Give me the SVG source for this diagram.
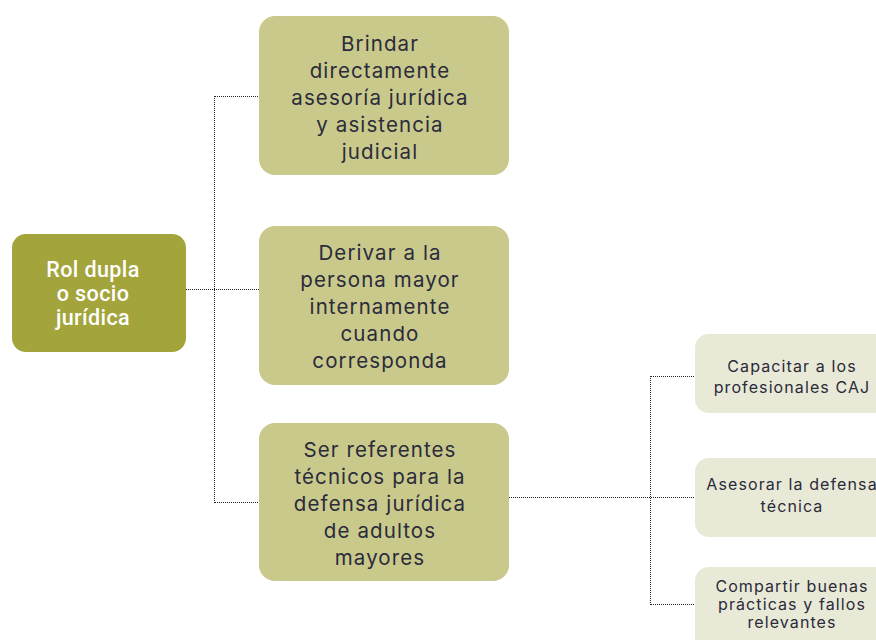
<svg xmlns="http://www.w3.org/2000/svg" width="876" height="640" viewBox="0 0 876 640">
<style>
.root{fill:#a3a53c}
.mid{fill:#c9c98c}
.leaf{fill:#e8e9d6}
.rt{font-family:Roboto,"Liberation Sans",sans-serif;font-size:21.5px;font-weight:500;fill:#ffffff;text-anchor:middle;letter-spacing:0.4px}
.mt{font-family:Inter,"Liberation Sans",sans-serif;font-size:20.5px;fill:#2b2b3b;text-anchor:middle;letter-spacing:1.1px}
.lt{font-family:Inter,"Liberation Sans",sans-serif;font-size:16px;fill:#2b2b3b;text-anchor:middle;letter-spacing:1.1px}
.con{fill:none;stroke:#222;stroke-width:1;stroke-dasharray:1 1}
</style>
<rect width="876" height="640" fill="#ffffff"/>
<g id="connectors">
<line class="con" x1="186" y1="289.5" x2="259" y2="289.5"/>
<line class="con" x1="214.5" y1="96" x2="214.5" y2="503"/>
<line class="con" x1="215" y1="96.5" x2="259" y2="96.5"/>
<line class="con" x1="215" y1="502.5" x2="259" y2="502.5"/>
<line class="con" x1="509" y1="497.5" x2="695" y2="497.5"/>
<line class="con" x1="650.5" y1="376" x2="650.5" y2="605"/>
<line class="con" x1="651" y1="376.5" x2="695" y2="376.5"/>
<line class="con" x1="651" y1="604.5" x2="695" y2="604.5"/>
</g>
<g id="root">
<rect class="root" x="12" y="234" width="174" height="118" rx="14"/>
<text class="rt" x="93" y="277">Rol dupla</text>
<text class="rt" x="93" y="301">o socio</text>
<text class="rt" x="93" y="325">jurídica</text>
</g>
<g id="n1">
<rect class="mid" x="259" y="16" width="250" height="159" rx="16"/>
<text class="mt" x="380" y="51">Brindar</text>
<text class="mt" x="380" y="78">directamente</text>
<text class="mt" x="380" y="105">asesoría jurídica</text>
<text class="mt" x="380" y="132">y asistencia</text>
<text class="mt" x="380" y="159">judicial</text>
</g>
<g id="n2">
<rect class="mid" x="259" y="226" width="250" height="159" rx="16"/>
<text class="mt" x="380" y="260">Derivar a la</text>
<text class="mt" x="380" y="287">persona mayor</text>
<text class="mt" x="380" y="314">internamente</text>
<text class="mt" x="380" y="341">cuando</text>
<text class="mt" x="380" y="368">corresponda</text>
</g>
<g id="n3">
<rect class="mid" x="259" y="423" width="250" height="158" rx="16"/>
<text class="mt" x="380" y="457">Ser referentes</text>
<text class="mt" x="380" y="484">técnicos para la</text>
<text class="mt" x="380" y="511">defensa jurídica</text>
<text class="mt" x="380" y="538">de adultos</text>
<text class="mt" x="380" y="565">mayores</text>
</g>
<g id="l1">
<rect class="leaf" x="695" y="334" width="200" height="79" rx="14"/>
<text class="lt" x="792" y="372">Capacitar a los</text>
<text class="lt" x="792" y="393">profesionales CAJ</text>
</g>
<g id="l2">
<rect class="leaf" x="695" y="458" width="200" height="79" rx="14"/>
<text class="lt" x="792" y="490">Asesorar la defensa</text>
<text class="lt" x="792" y="512">técnica</text>
</g>
<g id="l3">
<rect class="leaf" x="695" y="567" width="200" height="90" rx="14"/>
<text class="lt" x="792" y="592">Compartir buenas</text>
<text class="lt" x="792" y="610">prácticas y fallos</text>
<text class="lt" x="792" y="628">relevantes</text>
</g>
</svg>
